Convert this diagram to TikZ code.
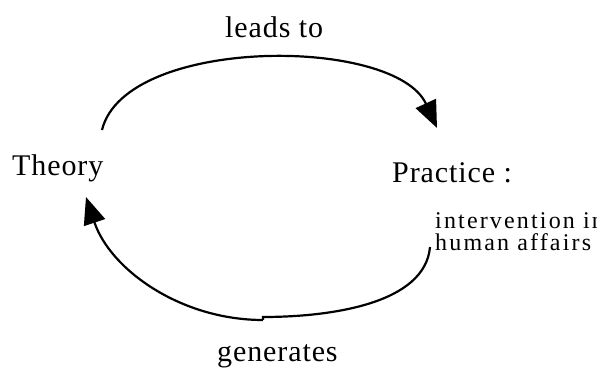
\documentclass[tikz,border=0pt]{standalone}
\usepackage{fontspec}
\setmainfont{Liberation Serif}
\usetikzlibrary{arrows.meta}
\tikzset{
  mainlabel/.style={inner sep=0pt, anchor=base west, font=\fontsize{30}{34}\selectfont\addfontfeatures{LetterSpace=3}},
  sublabel/.style={inner sep=0pt, anchor=base west, align=left, font=\fontsize{24}{26}\selectfont\addfontfeatures{LetterSpace=9}},
  arc/.style={line width=2.2pt},
  tip/.style={-{Triangle[length=27pt,width=22pt]}}
}
\begin{document}
\begin{tikzpicture}[x=1pt,y=1pt]
\useasboundingbox (0,0) rectangle (597,369);
\node[mainlabel] (leads) at (225,331) {leads to};
\node[mainlabel] (theory) at (12,193) {Theory};
\node[mainlabel] (practice) at (392,186) {Practice :};
\node[sublabel] (interv) at (435,140) {intervention in};
\node[sublabel] (human) at (435,118) {human affairs};
\node[mainlabel] (gen) at (217,7) {generates};
\coordinate (a1) at (102,239);
\coordinate (a2) at (437,241);
\coordinate (b1) at (430,122);
\coordinate (bm1) at (263,52);
\coordinate (bm2) at (263,49);
\coordinate (b2) at (86,172);
\draw[arc,tip] (a1) .. controls (125,333) and (395,333) .. (a2);
\draw[arc] (b1) .. controls (425,65) and (330,52) .. (bm1) -- (bm2);
\draw[arc,tip] (bm2) .. controls (180,49) and (110,100) .. (b2);
\end{tikzpicture}
\end{document}
